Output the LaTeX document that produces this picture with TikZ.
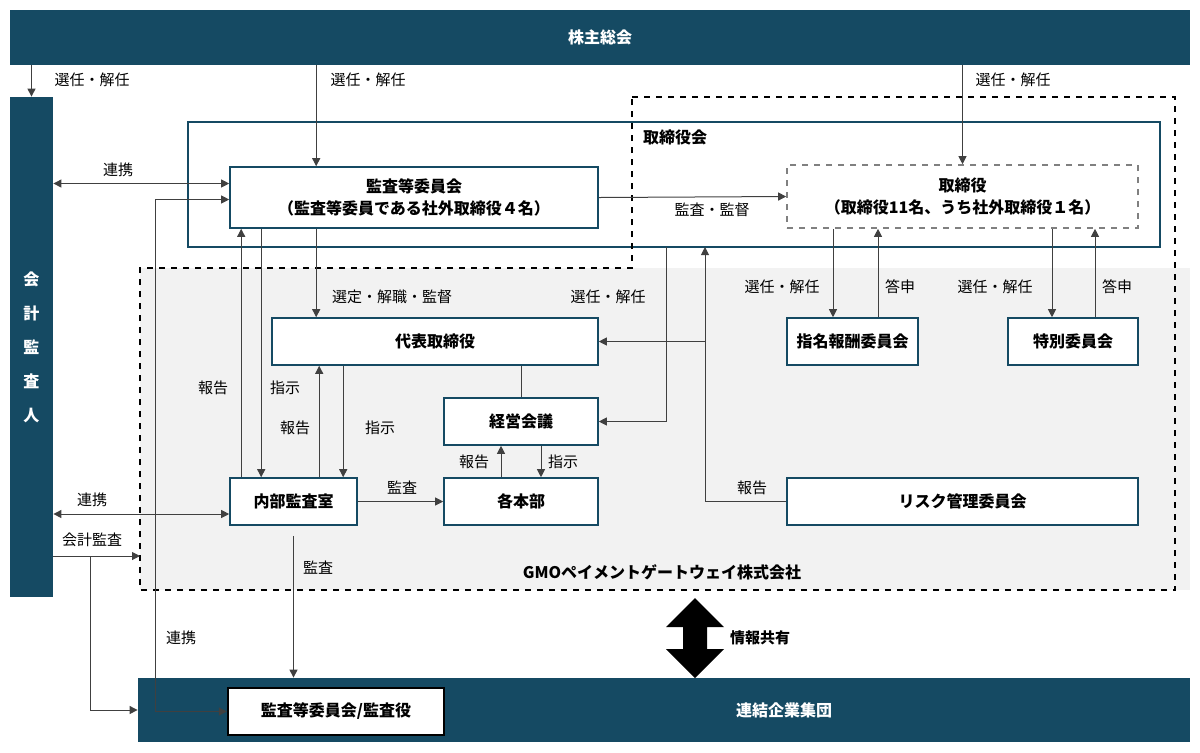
\documentclass[tikz,border=0pt]{standalone}
\usepackage{fontspec}
\setmainfont{Noto Sans CJK JP}
\usetikzlibrary{arrows.meta}
\definecolor{navy}{HTML}{154A63}
\definecolor{lgray}{HTML}{F2F2F2}
\definecolor{lline}{HTML}{404040}
\tikzset{
  box/.style = {draw = navy, line width = 0.8pt, fill = white, inner sep = 0pt,
    font = \fontsize{8pt}{11pt}\selectfont\bfseries, align = center},
  bar/.style = {fill = navy, inner sep = 0pt, text = white,
    font = \fontsize{8pt}{11pt}\selectfont\bfseries},
  arr/.style = {-{Triangle[length = 4pt, width = 4pt]}, color = lline, line width = 0.5pt},
  dbl/.style = {{Triangle[length = 4pt, width = 4pt]}-{Triangle[length = 4pt, width = 4pt]}, color = lline, line width = 0.5pt},
  lbl/.style = {font = \fontsize{7.5pt}{9pt}\selectfont, inner sep = 1pt}
}
\begin{document}
\begin{tikzpicture}[x = 0.5pt, y = -0.5pt]
\useasboundingbox (0, 0) rectangle (1200, 752);
% company area
\fill[lgray] (140, 268) rectangle (1190, 590);
\draw[navy, line width = 1.2pt] (188, 122) rectangle (1160, 247);
\node[font = \fontsize{8pt}{10pt}\selectfont\bfseries, anchor = west] (torikai) at (636, 137) {取締役会};
\coordinate (tb) at (674, 247);
\draw[dashed, line width = 1pt] (632, 97) -- (1175, 97) -- (1175, 590) -- (140, 590) -- (140, 268) -- (632, 268) -- cycle;
\node[font = \fontsize{8pt}{10pt}\selectfont\bfseries] (gmo) at (662, 572) {GMOペイメントゲートウェイ株式会社};

% bars
\node[bar, minimum width = 590pt, minimum height = 27.5pt] (soukai) at (600, 37.5) {株主総会};
\node[bar, minimum width = 21.5pt, minimum height = 250pt, align = center,
  font = \fontsize{8pt}{17pt}\selectfont\bfseries] (kaikei) at (31.5, 347) {会\\計\\監\\査\\人};
\node[bar, minimum width = 526pt, minimum height = 32pt] (renketsu) at (664, 710) {\hspace{120pt}連結企業集団};

% boxes
\node[box, minimum width = 184pt, minimum height = 30.5pt] (kansa) at (414, 197.5) {監査等委員会\\（監査等委員である社外取締役４名）};
\node[box, draw = gray, dashed, minimum width = 175.5pt, minimum height = 31.5pt] (tori) at (962.5, 196.5) {取締役\\（取締役11名、うち社外取締役１名）};
\node[box, minimum width = 163pt, minimum height = 23.5pt] (daihyo) at (435, 341.5) {代表取締役};
\node[box, minimum width = 77pt, minimum height = 23.5pt] (keiei) at (521, 421.5) {経営会議};
\node[box, minimum width = 77pt, minimum height = 23.5pt] (kaku) at (521, 501.5) {各本部};
\node[box, minimum width = 63.5pt, minimum height = 23.5pt] (naibu) at (293.5, 501.5) {内部監査室};
\node[box, minimum width = 65.5pt, minimum height = 23.5pt] (shimei) at (852.5, 341.5) {指名報酬委員会};
\node[box, minimum width = 65pt, minimum height = 23.5pt] (tokubetsu) at (1073, 341.5) {特別委員会};
\node[box, minimum width = 175.5pt, minimum height = 23.5pt] (risk) at (962.5, 501.5) {リスク管理委員会};
\node[box, draw = black, line width = 1.2pt, minimum width = 108pt, minimum height = 23.5pt] (bbox) at (336, 711.5) {監査等委員会/監査役};

% shareholders
\draw[arr] (soukai.south -| kaikei.north) -- (kaikei.north);
\coordinate (c1) at ([xshift = 43.5pt]kansa.north west);
\draw[arr] (c1 |- soukai.south) -- (c1);
\draw[arr] (tori.north |- soukai.south) -- (tori.north);
\node[lbl] at (92, 80) {選任・解任};
\node[lbl] at (368, 80) {選任・解任};
\node[lbl] at (1013, 80) {選任・解任};

% auditors
\coordinate (k1) at ([yshift = 7pt]kansa.west);
\draw[dbl] (k1 -| kaikei.east) -- (k1);
\node[lbl] at (118, 170) {連携};
\coordinate (k2) at ([yshift = -1pt]kansa.west);
\coordinate (k2x) at ([xshift = -37pt]k2);
\draw[dbl] (bbox.west) -| (k2x) -- (k2);
\node[lbl] at (181, 638) {連携};
\coordinate (n5) at ([yshift = -6.25pt]naibu.west);
\draw[dbl] (n5 -| kaikei.east) -- (n5);
\node[lbl] at (92, 500) {連携};
\coordinate (ka) at (53, 556);
\coordinate (kb) at (140, 556);
\coordinate (kc) at (90, 556);
\draw[arr] (ka) -- (kb);
\draw[arr] (kc) |- (renketsu.west);
\node[lbl] at (92, 540) {会計監査};

% board
\draw[arr] (kansa.east) -- (tori.west);
\node[lbl] at (712, 210) {監査・監督};
\draw[arr] (c1 |- kansa.south) -- (c1 |- daihyo.north);
\node[lbl] at (392, 297) {選定・解職・監督};
\coordinate (t1) at ([xshift = 15.5pt]tb);
\coordinate (t2) at ([xshift = -4pt]tb);
\draw[arr] (risk.west) -| (t1);
\draw[arr] (t1 |- daihyo.east) -- (daihyo.east);
\draw[arr] (t2) |- (keiei.east);
\node[lbl] at (608, 297) {選任・解任};
\node[lbl] at (752, 488) {報告};

% committees
\coordinate (s1) at ([xshift = -9.75pt]shimei.north);
\coordinate (s2) at ([xshift = 12.75pt]shimei.north);
\coordinate (s3) at ([xshift = -10.5pt]tokubetsu.north);
\coordinate (s4) at ([xshift = 11pt]tokubetsu.north);
\draw[arr] (s1 |- tori.south) -- (s1);
\draw[arr] (s2) -- (s2 |- tori.south);
\draw[arr] (s3 |- tori.south) -- (s3);
\draw[arr] (s4) -- (s4 |- tori.south);
\node[lbl] at (782, 287) {選任・解任};
\node[lbl] at (900, 287) {答申};
\node[lbl] at (995, 287) {選任・解任};
\node[lbl] at (1117, 287) {答申};

% internal audit
\coordinate (n1) at ([xshift = 6pt]naibu.north west);
\coordinate (n2) at ([xshift = 16pt]naibu.north west);
\coordinate (n3) at ([xshift = 45pt]naibu.north west);
\coordinate (n4) at ([xshift = 57pt]naibu.north west);
\draw[arr] (n1) -- (n1 |- kansa.south);
\draw[arr] (n2 |- kansa.south) -- (n2);
\draw[arr] (n3) -- (n3 |- daihyo.south);
\draw[arr] (n4 |- daihyo.south) -- (n4);
\node[lbl] at (213, 388) {報告};
\node[lbl] at (285, 388) {指示};
\node[lbl] at (295, 428) {報告};
\node[lbl] at (380, 428) {指示};
\draw[arr] (naibu.east) -- (kaku.west);
\node[lbl] at (402, 488) {監査};
\coordinate (n6) at ([yshift = -5pt]naibu.south);
\draw[arr] (n6) -- (n6 |- renketsu.north);
\node[lbl] at (318, 568) {監査};

% management
\draw[color = lline, line width = 0.5pt] (keiei.north |- daihyo.south) -- (keiei.north);
\draw[arr] ([xshift = -10pt]kaku.north) -- ([xshift = -10pt]keiei.south);
\draw[arr] ([xshift = 10pt]keiei.south) -- ([xshift = 10pt]kaku.north);
\node[lbl] at (474, 462) {報告};
\node[lbl] at (563, 462) {指示};

% information sharing
\fill (695, 598) -- (724, 627) -- (707, 627) -- (707, 649) -- (724, 649) -- (695, 678)
  -- (666, 649) -- (683, 649) -- (683, 627) -- (666, 627) -- cycle;
\node[lbl, font = \fontsize{7.5pt}{9pt}\selectfont\bfseries] at (760, 638) {情報共有};
\end{tikzpicture}
\end{document}
